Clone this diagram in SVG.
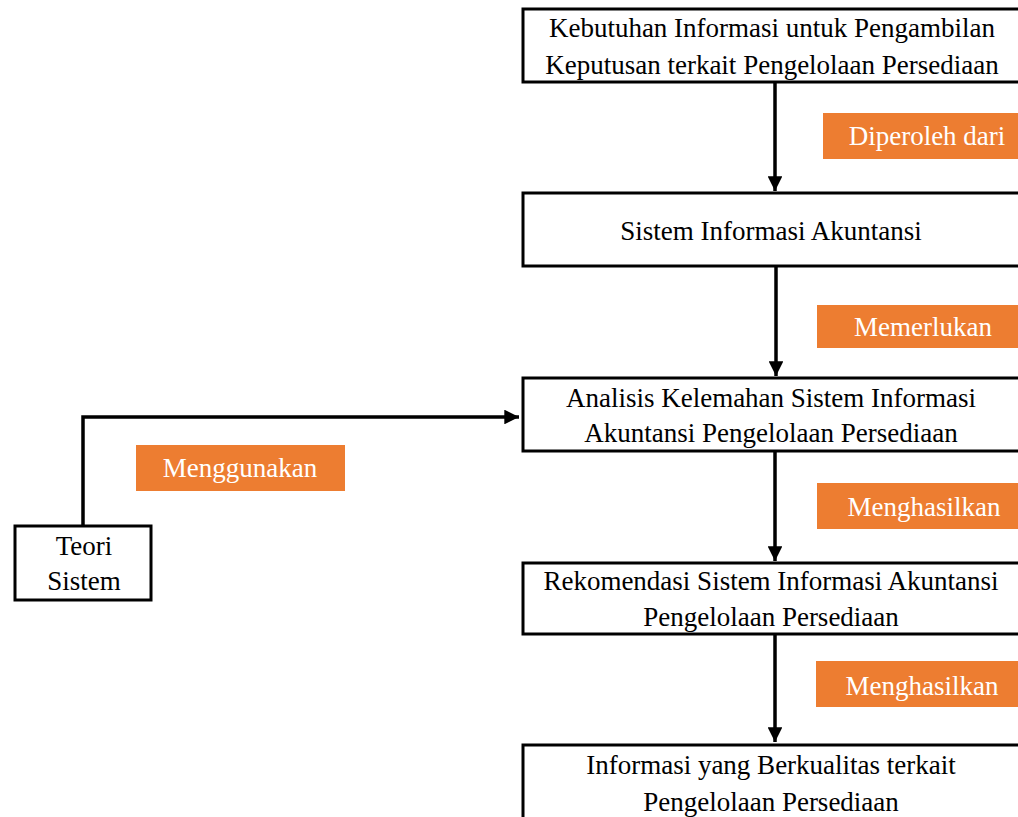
<svg xmlns="http://www.w3.org/2000/svg" width="1018" height="817" viewBox="0 0 1018 817">
<style>
.box{fill:#fff;stroke:#000;stroke-width:3}
.t{font-family:"Liberation Serif","Times New Roman",serif;font-size:27px;fill:#000;text-anchor:middle}
.lbl{fill:#ED7D31}
.lt{font-family:"Liberation Serif","Times New Roman",serif;font-size:27px;fill:#fff;text-anchor:middle}
.c{fill:none;stroke:#000;stroke-width:3.5}
</style>
<defs>
<marker id="ah" viewBox="0 0 10 10" refX="10" refY="5" markerWidth="4.2" markerHeight="4.2" markerUnits="strokeWidth" orient="auto">
<path d="M0,0 L10,5 L0,10 z" fill="#000"/>
</marker>
</defs>
<rect width="1018" height="817" fill="#fff"/>
<g id="connectors">
<line class="c" x1="775" y1="82" x2="775" y2="191" marker-end="url(#ah)"/>
<line class="c" x1="776" y1="266" x2="776" y2="376" marker-end="url(#ah)"/>
<line class="c" x1="775" y1="451" x2="775" y2="561" marker-end="url(#ah)"/>
<line class="c" x1="775" y1="634" x2="775" y2="742" marker-end="url(#ah)"/>
<path class="c" d="M83,525 L83,417 L519,417" marker-end="url(#ah)"/>
</g>
<g id="n1">
<rect class="box" x="523" y="9" width="500" height="73"/>
<text class="t" x="772" y="37">Kebutuhan Informasi untuk Pengambilan</text>
<text class="t" x="772" y="74">Keputusan terkait Pengelolaan Persediaan</text>
</g>
<g id="n2">
<rect class="box" x="523" y="193" width="500" height="73"/>
<text class="t" x="771" y="240">Sistem Informasi Akuntansi</text>
</g>
<g id="n3">
<rect class="box" x="523" y="378" width="500" height="73"/>
<text class="t" x="771" y="407">Analisis Kelemahan Sistem Informasi</text>
<text class="t" x="771" y="442">Akuntansi Pengelolaan Persediaan</text>
</g>
<g id="n4">
<rect class="box" x="523" y="563" width="500" height="71"/>
<text class="t" x="771" y="590">Rekomendasi Sistem Informasi Akuntansi</text>
<text class="t" x="771" y="626">Pengelolaan Persediaan</text>
</g>
<g id="n5">
<rect class="box" x="523" y="745" width="500" height="90"/>
<text class="t" x="771" y="774">Informasi yang Berkualitas terkait</text>
<text class="t" x="771" y="811">Pengelolaan Persediaan</text>
</g>
<g id="n6">
<rect class="box" x="15" y="526" width="136" height="74"/>
<text class="t" x="84" y="555">Teori</text>
<text class="t" x="84" y="590">Sistem</text>
</g>
<g id="l1">
<rect class="lbl" x="823" y="113" width="200" height="46"/>
<text class="lt" x="927" y="145">Diperoleh dari</text>
</g>
<g id="l2">
<rect class="lbl" x="817" y="305" width="206" height="43"/>
<text class="lt" x="923" y="336">Memerlukan</text>
</g>
<g id="l3">
<rect class="lbl" x="817" y="483" width="206" height="46"/>
<text class="lt" x="924" y="516">Menghasilkan</text>
</g>
<g id="l4">
<rect class="lbl" x="816" y="661" width="207" height="46"/>
<text class="lt" x="922" y="695">Menghasilkan</text>
</g>
<g id="l5">
<rect class="lbl" x="136" y="445" width="209" height="46"/>
<text class="lt" x="240" y="477">Menggunakan</text>
</g>
</svg>
